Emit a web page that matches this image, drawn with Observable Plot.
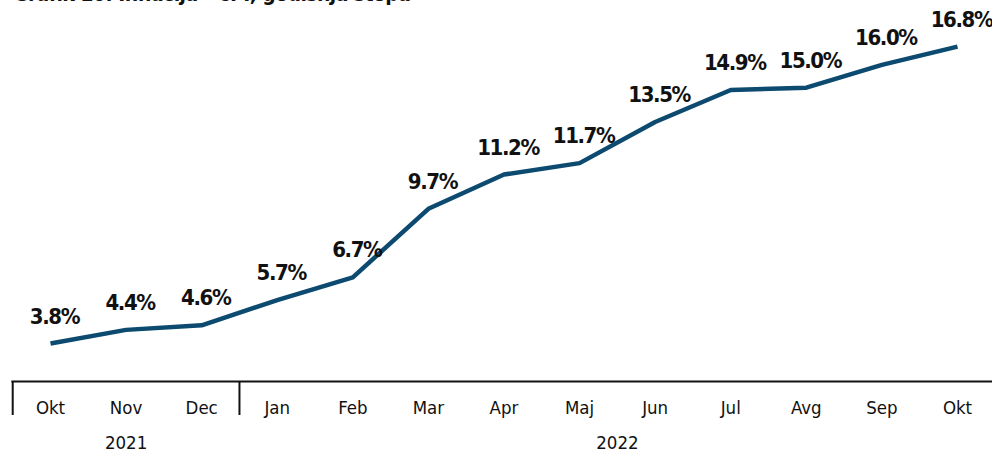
<!DOCTYPE html>
<html>
<head>
<meta charset="utf-8">
<script src="https://cdn.jsdelivr.net/npm/d3@7"></script>
<script src="https://cdn.jsdelivr.net/npm/@observablehq/plot@0.6"></script>
<style>
  html, body { margin: 0; padding: 0; background: #fff; }
  #wrap { position: relative; width: 992px; height: 452px; overflow: hidden; }
  #title { position: absolute; left: 13px; top: -18px; font-family: "DejaVu Sans Condensed", sans-serif; font-size: 21px; font-weight: 700; letter-spacing: -0.6px; color: #111; white-space: nowrap; }
  #chart { position: absolute; left: 0; top: 0; }
  .vlabel text { letter-spacing: -1.4px; }
</style>
</head>
<body>
<div id="wrap">
  <div id="chart"></div>
  <div id="title">Grafik 10: Inflacija - CPI, godišnja stopa</div>
</div>
<script>
const months = ["Okt", "Nov", "Dec", "Jan", "Feb", "Mar", "Apr", "Maj", "Jun", "Jul", "Avg", "Sep", "Okt"];
const inflation = [3.8, 4.4, 4.6, 5.7, 6.7, 9.7, 11.2, 11.7, 13.5, 14.9, 15.0, 16.0, 16.8];
const years = ["2021", "2022"];
const yearFirstIndex = [0, 3];
const yearLastIndex = [2, 12];

const data = inflation.map((v, i) => ({i, v, month: months[i]}));
const yearData = years.map((y, k) => ({label: y, mid: (yearFirstIndex[k] + yearLastIndex[k]) / 2}));
const separators = yearFirstIndex.map(i => i - 0.5);

const font = `"DejaVu Sans Condensed", sans-serif`;
const blue = "#0c4a70";

const chart = Plot.plot({
  width: 992,
  height: 452,
  marginLeft: 12,
  marginRight: 0,
  marginTop: 10,
  marginBottom: 71,
  style: {fontFamily: font, background: "transparent", color: "#111"},
  x: {type: "linear", domain: [0, months.length - 1], range: [50, 957]},
  y: {domain: [2.14, 18.38], axis: null},
  marks: [
    Plot.frame({anchor: "bottom", stroke: "#111", strokeWidth: 2.2}),
    Plot.axisX({ticks: separators, tickSize: 34, strokeWidth: 2, tickFormat: () => "", stroke: "#111"}),
    Plot.axisX({ticks: d3.range(months.length), tickSize: 0, tickPadding: 19, fontSize: 18.5, tickFormat: i => months[i], fill: "#111"}),
    Plot.text(yearData, {x: "mid", text: "label", frameAnchor: "bottom", dy: 62, fontSize: 18.5, fill: "#111", lineAnchor: "middle"}),
    Plot.line(data, {x: "i", y: "v", stroke: blue, strokeWidth: 4.5, strokeLinejoin: "miter", strokeLinecap: "butt"}),
    Plot.text(data, {x: "i", y: "v", text: d => d.v.toFixed(1) + "%", dy: -27, dx: 4, fontSize: 22, fontWeight: "bold", fill: "#111", className: "vlabel"})
  ]
});
document.getElementById("chart").append(chart);
</script>
</body>
</html>
